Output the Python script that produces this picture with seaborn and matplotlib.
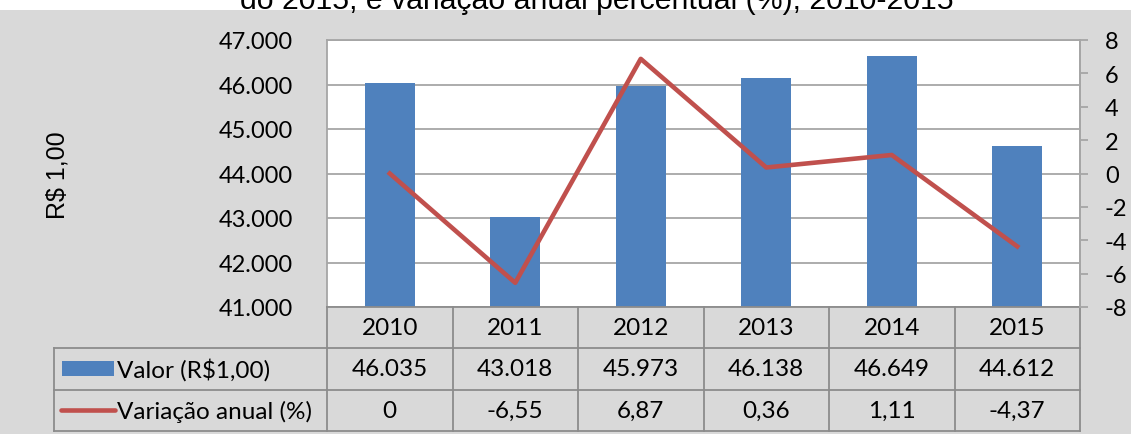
import numpy as np
import matplotlib
matplotlib.use("Agg")
import matplotlib.pyplot as plt
import matplotlib.ticker as mticker
import matplotlib.transforms as mtransforms
from matplotlib.patches import Rectangle
from matplotlib.lines import Line2D
import seaborn as sns

# data
years = ["2010", "2011", "2012", "2013", "2014", "2015"]
valor = [46035, 43018, 45973, 46138, 46649, 44612]
variacao = [0, -6.55, 6.87, 0.36, 1.11, -4.37]
row_labels = ["Valor (R$1,00)", "Variação anual (%)"]
title = "do 2015, e variação anual percentual (%), 2010-2015"
ylabel = "R$ 1,00"

blue = "#4F81BD"
red = "#C0504D"
grey_line = "#A6A6A6"
table_line = "#8C8C8C"
bg = "#D9D9D9"

plt.rcParams["axes.unicode_minus"] = False
plt.rcParams["font.family"] = ["Lato", "DejaVu Sans"]

W, H = 1131, 435
fig = plt.figure(figsize=(W / 100, H / 100), dpi=100, facecolor=bg)

# white strip on top with the clipped title
fig.patches.append(Rectangle((0, 1 - 11 / H), 1, 11 / H, transform=fig.transFigure,
                             facecolor="white", edgecolor="none", zorder=0))
fig.text(597 / W, 1 - 9 / H, title, ha="center", va="baseline", fontsize=21.8,
         family=["Liberation Sans", "DejaVu Sans"], color="black")

# plot area
x0, x1, y0, y1 = 327, 1080, 41, 308
ax = fig.add_axes([x0 / W, 1 - y1 / H, (x1 - x0) / W, (y1 - y0) / H])
ax.set_facecolor("white")

sns.barplot(x=years, y=valor, color=blue, width=0.4, saturation=1, ax=ax, zorder=3)
ax.set_ylim(41000, 47000)
ax.set_xlim(-0.5, len(years) - 0.5)
ax.yaxis.set_major_locator(mticker.MultipleLocator(1000))
ax.yaxis.set_major_formatter(mticker.FuncFormatter(lambda v, p: f"{int(v):,}".replace(",", ".")))
ax.grid(axis="y", color=grey_line, linewidth=1.3, zorder=0)
ax.set_axisbelow(True)
ax.tick_params(axis="y", length=0, pad=24.5, labelsize=17)
ax.tick_params(axis="x", length=0, labelbottom=False)
ax.set_xlabel("")
ax.set_ylabel("")
for s in ["left", "top", "right"]:
    ax.spines[s].set_color(grey_line)
    ax.spines[s].set_linewidth(1.3)
ax.spines["bottom"].set_visible(False)

ax2 = ax.twinx()
sns.lineplot(x=np.arange(len(years)), y=variacao, color=red, linewidth=3.3, ax=ax2)
ax2.set_ylim(-8, 8)
ax2.yaxis.set_major_locator(mticker.MultipleLocator(2))
ax2.tick_params(axis="y", length=6, width=1.3, color=grey_line, pad=12, labelsize=17)
for s in ["left", "top", "bottom"]:
    ax2.spines[s].set_visible(False)
ax2.spines["right"].set_color(grey_line)
ax2.spines["right"].set_linewidth(1.3)
ax2.set_ylabel("")

fig.text(58 / W, 1 - 175 / H, ylabel, rotation=90, ha="center", va="center",
         fontsize=18, family=["Liberation Sans", "DejaVu Sans"])

# data table under the plot, drawn by hand (pixel rows -> axes fractions)
fy = lambda py: (y1 - py) / (y1 - y0)
fx = lambda px: (px - x0) / (x1 - x0)
rows_y = [308, 349, 391, 432]
tleft = fx(54)
tb = mtransforms.blended_transform_factory(ax.transData, ax.transAxes)


def tline(xs, ys):
    ax.add_line(Line2D(xs, ys, transform=ax.transAxes, color=table_line,
                       linewidth=1.3, clip_on=False, zorder=5))


tline([0, 1], [fy(rows_y[0])] * 2)
for py in rows_y[1:]:
    tline([tleft, 1], [fy(py)] * 2)
tline([tleft, tleft], [fy(rows_y[1]), fy(rows_y[3])])
for i in range(len(years) + 1):
    tline([i / len(years)] * 2, [fy(rows_y[0]), fy(rows_y[3])])

valor_txt = [f"{v:,}".replace(",", ".") for v in valor]
var_txt = ["0" if v == 0 else f"{v:.2f}".replace(".", ",") for v in variacao]
for r, texts in enumerate([years, valor_txt, var_txt]):
    yc = fy((rows_y[r] + rows_y[r + 1]) / 2)
    for i, t in enumerate(texts):
        ax.text(i, yc, t, transform=tb, ha="center", va="center", fontsize=17.5, clip_on=False)
for r, lab in enumerate(row_labels):
    yc = fy((rows_y[r + 1] + rows_y[r + 2]) / 2)
    ax.text(fx(117), yc, lab, transform=ax.transAxes, ha="left", va="center",
            fontsize=17.5, clip_on=False)

# legend swatches inside the row label cells
fig.patches.append(Rectangle((62 / W, 1 - 377 / H), 52 / W, 15 / H, transform=fig.transFigure,
                             facecolor=blue, edgecolor="none", zorder=5))
fig.lines.append(Line2D([61 / W, 115 / W], [1 - 411 / H, 1 - 411 / H], transform=fig.transFigure,
                        color=red, linewidth=3.3, solid_capstyle="round", zorder=5))

fig.savefig("out.png", dpi=100, facecolor=bg)
